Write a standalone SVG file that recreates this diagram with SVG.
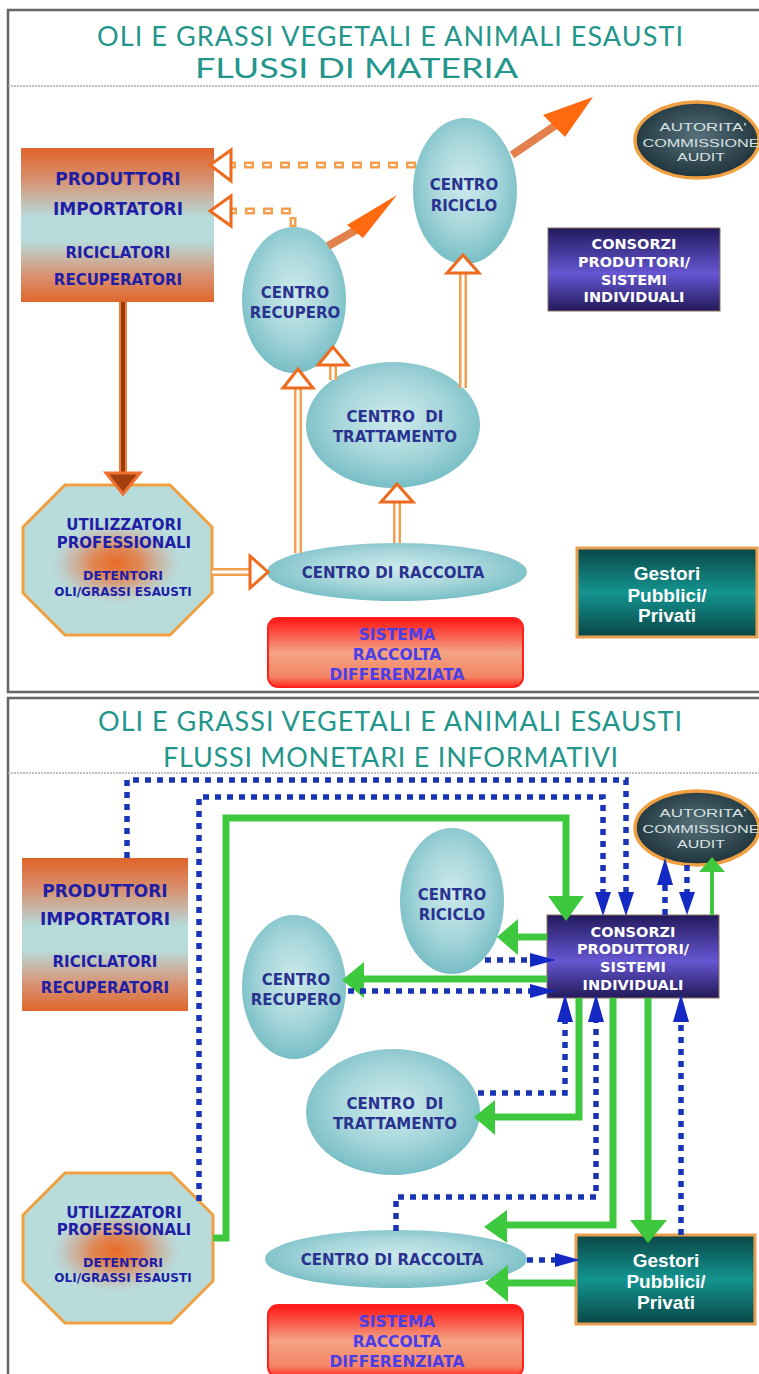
<svg xmlns="http://www.w3.org/2000/svg" width="759" height="1374" viewBox="0 0 759 1374">
<defs>
<style>
.frame{fill:#fff;stroke:#666;stroke-width:2.5}
.sep{stroke:#aaa;stroke-width:1.5;stroke-dasharray:2 1}
.title{font-family:Lato,"Liberation Sans",sans-serif;font-size:27px;fill:#23968c}
.lbl{font-family:"DejaVu Sans",Verdana,sans-serif;font-weight:bold;fill:#2a3290;text-anchor:middle}
.blu{fill:#1e1ea6}
.sis{fill:#4a3ee8}
.wht{fill:#fff}
.aud{font-family:"Liberation Sans",Arial,sans-serif;font-size:11.5px;fill:#d8e2e2;text-anchor:middle}
.ges{font-family:"Liberation Sans",Arial,sans-serif;font-weight:bold;font-size:19px;fill:#fff;text-anchor:middle}
.ell{fill:url(#cy)}
.oct{fill:#b8dcdc;stroke:#f0a040;stroke-width:3}
.od{fill:none;stroke:#f5a050;stroke-width:7;stroke-dasharray:10 8}
.odw{fill:none;stroke:#fff;stroke-width:2;stroke-dasharray:5 13;stroke-dashoffset:-2.5}
.hh{fill:#fff;stroke:#ee6a1c;stroke-width:3;stroke-linejoin:miter}
.dl{fill:none;stroke:#f2a050;stroke-width:8}
.dlw{fill:none;stroke:#fff;stroke-width:3}
.bd{fill:none;stroke:#1a35b4;stroke-width:5.5;stroke-dasharray:6 6}
.bh{fill:#1428c4}
.gl{fill:none;stroke:#3ec83e;stroke-width:7}
.gh{fill:#3ec83e}
</style>
<radialGradient id="cy" cx="50%" cy="45%" r="55%">
<stop offset="0" stop-color="#cdeaec"/>
<stop offset="0.55" stop-color="#a8d7db"/>
<stop offset="1" stop-color="#78bec6"/>
</radialGradient>
<linearGradient id="prod" x1="0" y1="0" x2="0" y2="1">
<stop offset="0" stop-color="#e0642a"/>
<stop offset="0.2" stop-color="#d8906e"/>
<stop offset="0.45" stop-color="#b6dcdc"/>
<stop offset="0.6" stop-color="#b6dcdc"/>
<stop offset="0.82" stop-color="#d89474"/>
<stop offset="1" stop-color="#e0662c"/>
</linearGradient>
<radialGradient id="blob" cx="50%" cy="50%" r="50%">
<stop offset="0" stop-color="#e86a24" stop-opacity="1"/>
<stop offset="0.35" stop-color="#e67a40" stop-opacity="0.85"/>
<stop offset="0.7" stop-color="#d89a80" stop-opacity="0.4"/>
<stop offset="1" stop-color="#b8dcdc" stop-opacity="0"/>
</radialGradient>
<linearGradient id="sis" x1="0" y1="0" x2="0" y2="1">
<stop offset="0" stop-color="#ff1414"/>
<stop offset="0.5" stop-color="#f4a484"/>
<stop offset="0.85" stop-color="#f48464"/>
<stop offset="1" stop-color="#ff2a20"/>
</linearGradient>
<linearGradient id="cons" x1="0" y1="0" x2="0" y2="1">
<stop offset="0" stop-color="#221a5c"/>
<stop offset="0.55" stop-color="#6656d2"/>
<stop offset="1" stop-color="#221a58"/>
</linearGradient>
<linearGradient id="ges" x1="0" y1="0" x2="0" y2="1">
<stop offset="0" stop-color="#0a4646"/>
<stop offset="0.5" stop-color="#139490"/>
<stop offset="1" stop-color="#0a4646"/>
</linearGradient>
<radialGradient id="aud" cx="50%" cy="45%" r="55%">
<stop offset="0" stop-color="#56707a"/>
<stop offset="1" stop-color="#1f343c"/>
</radialGradient>
</defs>

<!-- panels -->
<g id="panel-top">
<rect class="frame" x="8" y="10" width="760" height="682"/>
<line class="sep" x1="8" y1="86" x2="759" y2="86"/>
<text class="title" x="97" y="46" textLength="586" lengthAdjust="spacing">OLI E GRASSI VEGETALI E ANIMALI ESAUSTI</text>
<text class="title" x="195" y="78" textLength="323" lengthAdjust="spacingAndGlyphs">FLUSSI DI MATERIA</text>
</g>
<g id="panel-bottom">
<rect class="frame" x="8" y="698" width="760" height="690"/>
<line class="sep" x1="8" y1="773" x2="759" y2="773"/>
<text class="title" x="98" y="731" textLength="584" lengthAdjust="spacing">OLI E GRASSI VEGETALI E ANIMALI ESAUSTI</text>
<text class="title" x="163" y="767" textLength="455" lengthAdjust="spacing">FLUSSI MONETARI E INFORMATIVI</text>
</g>

<!-- ===== TOP PANEL NODES ===== -->
<g id="t-produttori">
<rect x="21" y="148" width="193" height="154" fill="url(#prod)"/>
<text class="lbl blu" x="118" y="185" font-size="17">PRODUTTORI</text>
<text class="lbl blu" x="118" y="215" font-size="17">IMPORTATORI</text>
<text class="lbl blu" x="118" y="258" font-size="15">RICICLATORI</text>
<text class="lbl blu" x="118" y="285" font-size="15">RECUPERATORI</text>
</g>
<g id="t-utilizzatori">
<polygon class="oct" points="65,485 170,485 212,527 212,593 170,635 65,635 23,593 23,527"/>
<ellipse cx="116" cy="563" rx="70" ry="44" fill="url(#blob)"/>
<text class="lbl blu" x="124" y="530" font-size="15">UTILIZZATORI</text>
<text class="lbl blu" x="124" y="548" font-size="15">PROFESSIONALI</text>
<text class="lbl blu" x="123" y="580" font-size="12.5">DETENTORI</text>
<text class="lbl blu" x="123" y="596" font-size="12">OLI/GRASSI ESAUSTI</text>
</g>
<g id="t-recupero">
<ellipse class="ell" cx="294" cy="300" rx="52" ry="73"/>
<text class="lbl" x="295" y="298" font-size="15">CENTRO</text>
<text class="lbl" x="295" y="318" font-size="15">RECUPERO</text>
</g>
<g id="t-riciclo">
<ellipse class="ell" cx="465" cy="191" rx="52" ry="73"/>
<text class="lbl" x="464" y="190" font-size="15">CENTRO</text>
<text class="lbl" x="464" y="211" font-size="15">RICICLO</text>
</g>
<g id="t-trattamento">
<ellipse class="ell" cx="393" cy="425" rx="87" ry="63"/>
<text class="lbl" x="395" y="422" font-size="15" xml:space="preserve">CENTRO  DI</text>
<text class="lbl" x="395" y="442" font-size="15">TRATTAMENTO</text>
</g>
<g id="t-raccolta">
<ellipse class="ell" cx="397" cy="572" rx="130" ry="29"/>
<text class="lbl" x="393" y="578" font-size="15">CENTRO DI RACCOLTA</text>
</g>
<g id="t-sistema">
<rect x="268" y="618" width="255" height="69" rx="10" fill="url(#sis)" stroke="#ff2020" stroke-width="2"/>
<text class="lbl sis" x="397" y="640" font-size="15.5">SISTEMA</text>
<text class="lbl sis" x="397" y="660" font-size="15.5">RACCOLTA</text>
<text class="lbl sis" x="397" y="680" font-size="15.5">DIFFERENZIATA</text>
</g>
<g id="t-autorita">
<ellipse cx="697" cy="140" rx="62" ry="38" fill="url(#aud)" stroke="#f0a040" stroke-width="3.5"/>
<text class="aud" x="703" y="131" textLength="87" lengthAdjust="spacingAndGlyphs">AUTORITA'</text>
<text class="aud" x="701" y="147" textLength="117" lengthAdjust="spacingAndGlyphs">COMMISSIONE</text>
<text class="aud" x="701" y="161" textLength="48" lengthAdjust="spacingAndGlyphs">AUDIT</text>
</g>
<g id="t-consorzi">
<rect x="548" y="228" width="172" height="83" fill="url(#cons)" stroke="#8a7060" stroke-width="1"/>
<text class="lbl wht" x="634" y="249" font-size="14.5">CONSORZI</text>
<text class="lbl wht" x="634" y="267" font-size="14.5">PRODUTTORI/</text>
<text class="lbl wht" x="634" y="285" font-size="14.5">SISTEMI</text>
<text class="lbl wht" x="634" y="302" font-size="14.5">INDIVIDUALI</text>
</g>
<g id="t-gestori">
<rect x="577" y="548" width="180" height="89" fill="url(#ges)" stroke="#e8a050" stroke-width="3"/>
<text class="ges" x="667" y="580">Gestori</text>
<text class="ges" x="667" y="602">Pubblici/</text>
<text class="ges" x="667" y="622">Privati</text>
</g>

<!-- ===== TOP PANEL CONNECTORS ===== -->
<g id="t-connectors">
<path class="od" d="M416,165 H231"/>
<path class="odw" d="M416,165 H231"/>
<polygon class="hh" points="210,165 231,150 231,181" stroke="#d8601c"/>
<path class="od" d="M293,227 V211 H231"/>
<path class="odw" d="M293,227 V211 H231"/>
<polygon class="hh" points="210,211 231,196 231,226" stroke="#d8601c"/>
<line x1="512" y1="155" x2="556" y2="125" stroke="#e2814c" stroke-width="8"/>
<polygon points="593,97 543,115 565,137" fill="#ff6a10"/>
<line x1="328" y1="246" x2="356" y2="230" stroke="#e2814c" stroke-width="8"/>
<polygon points="397,195 347,225 363,238" fill="#ff6a10"/>
<line x1="123" y1="302" x2="123" y2="474" stroke="#f08040" stroke-width="8"/>
<line x1="123" y1="302" x2="123" y2="474" stroke="#9a3a08" stroke-width="4"/>
<polygon points="106,473 140,473 123,494" fill="#a44010" stroke="#f07030" stroke-width="3"/>
<path class="dl" d="M298,553 V388"/><path class="dlw" d="M298,553 V388"/>
<polygon class="hh" points="298,369 283,388 313,388"/>
<path class="dl" d="M333,380 V365"/><path class="dlw" d="M333,380 V365"/>
<polygon class="hh" points="333,347 318,365 348,365"/>
<path class="dl" d="M397,543 V502"/><path class="dlw" d="M397,543 V502"/>
<polygon class="hh" points="397,484 381,502 413,502"/>
<path class="dl" d="M463,388 V273"/><path class="dlw" d="M463,388 V273"/>
<polygon class="hh" points="463,255 447,273 479,273"/>
<path class="dl" d="M212,572 H250"/><path class="dlw" d="M212,572 H250"/>
<polygon class="hh" points="268,572 250,556 250,588"/>
</g>

<!-- ===== BOTTOM PANEL NODES ===== -->
<g id="b-produttori">
<rect x="22" y="858" width="166" height="153" fill="url(#prod)"/>
<text class="lbl blu" x="105" y="897" font-size="17">PRODUTTORI</text>
<text class="lbl blu" x="105" y="925" font-size="17">IMPORTATORI</text>
<text class="lbl blu" x="105" y="967" font-size="15">RICICLATORI</text>
<text class="lbl blu" x="105" y="993" font-size="15">RECUPERATORI</text>
</g>
<g id="b-utilizzatori">
<polygon class="oct" points="65,1173 171,1173 213,1215 213,1281 171,1323 65,1323 23,1281 23,1215"/>
<ellipse cx="116" cy="1251" rx="70" ry="44" fill="url(#blob)"/>
<text class="lbl blu" x="124" y="1218" font-size="15">UTILIZZATORI</text>
<text class="lbl blu" x="124" y="1235" font-size="15">PROFESSIONALI</text>
<text class="lbl blu" x="123" y="1267" font-size="12.5">DETENTORI</text>
<text class="lbl blu" x="123" y="1282" font-size="12">OLI/GRASSI ESAUSTI</text>
</g>
<g id="b-riciclo">
<ellipse class="ell" cx="452" cy="901" rx="52" ry="73"/>
<text class="lbl" x="452" y="900" font-size="15">CENTRO</text>
<text class="lbl" x="452" y="920" font-size="15">RICICLO</text>
</g>
<g id="b-recupero">
<ellipse class="ell" cx="294" cy="987" rx="52" ry="72"/>
<text class="lbl" x="296" y="985" font-size="15">CENTRO</text>
<text class="lbl" x="296" y="1005" font-size="15">RECUPERO</text>
</g>
<g id="b-trattamento">
<ellipse class="ell" cx="393" cy="1112" rx="87" ry="63"/>
<text class="lbl" x="395" y="1109" font-size="15" xml:space="preserve">CENTRO  DI</text>
<text class="lbl" x="395" y="1129" font-size="15">TRATTAMENTO</text>
</g>
<g id="b-raccolta">
<ellipse class="ell" cx="396" cy="1259" rx="131" ry="29"/>
<text class="lbl" x="392" y="1265" font-size="15">CENTRO DI RACCOLTA</text>
</g>
<g id="b-sistema">
<rect x="268" y="1305" width="255" height="72" rx="10" fill="url(#sis)" stroke="#ff2020" stroke-width="2"/>
<text class="lbl sis" x="397" y="1327" font-size="15.5">SISTEMA</text>
<text class="lbl sis" x="397" y="1347" font-size="15.5">RACCOLTA</text>
<text class="lbl sis" x="397" y="1367" font-size="15.5">DIFFERENZIATA</text>
</g>
<g id="b-autorita">
<ellipse cx="697" cy="828" rx="62" ry="37" fill="url(#aud)" stroke="#f0a040" stroke-width="3.5"/>
<text class="aud" x="703" y="817" textLength="87" lengthAdjust="spacingAndGlyphs">AUTORITA'</text>
<text class="aud" x="701" y="833" textLength="117" lengthAdjust="spacingAndGlyphs">COMMISSIONE</text>
<text class="aud" x="701" y="848" textLength="48" lengthAdjust="spacingAndGlyphs">AUDIT</text>
</g>
<g id="b-consorzi">
<rect x="547" y="915" width="172" height="83" fill="url(#cons)" stroke="#8a7060" stroke-width="1"/>
<text class="lbl wht" x="633" y="937" font-size="14.5">CONSORZI</text>
<text class="lbl wht" x="633" y="954" font-size="14.5">PRODUTTORI/</text>
<text class="lbl wht" x="633" y="972" font-size="14.5">SISTEMI</text>
<text class="lbl wht" x="633" y="990" font-size="14.5">INDIVIDUALI</text>
</g>
<g id="b-gestori">
<rect x="576" y="1235" width="179" height="89" fill="url(#ges)" stroke="#e8a050" stroke-width="3"/>
<text class="ges" x="666" y="1267">Gestori</text>
<text class="ges" x="666" y="1288">Pubblici/</text>
<text class="ges" x="666" y="1309">Privati</text>
</g>

<!-- ===== BOTTOM PANEL CONNECTORS ===== -->
<g id="b-connectors">
<path class="bd" d="M127,858 V780 H626 V893"/>
<polygon class="bh" points="626,916 618,892 634,892"/>
<path class="bd" d="M199,1201 V797 H603 V893"/>
<polygon class="bh" points="603,916 595,892 611,892"/>
<path class="gl" d="M213,1238 H226 V818 H566 V896"/>
<polygon class="gh" points="566,921 548,896 584,896"/>
<path class="gl" d="M547,937 H517"/>
<polygon class="gh" points="497,937 518,919 518,955"/>
<path class="bd" d="M485,960 H530"/>
<polygon class="bh" points="556,960 530,953 530,967"/>
<path class="gl" d="M547,979 H362"/>
<polygon class="gh" points="342,980 364,962 364,998"/>
<path class="bd" d="M348,991 H530"/>
<polygon class="bh" points="556,991 530,984 530,998"/>
<path class="bd" d="M478,1093 H565 V1022"/>
<polygon class="bh" points="565,994 557,1022 573,1022"/>
<path class="gl" d="M579,998 V1117 H494"/>
<polygon class="gh" points="474,1117 495,1100 495,1135"/>
<path class="bd" d="M396,1231 V1197 H596 V1022"/>
<polygon class="bh" points="596,994 588,1022 604,1022"/>
<path class="gl" d="M613,998 V1225 H505"/>
<polygon class="gh" points="484,1227 507,1210 507,1243"/>
<path class="gl" d="M648,998 V1221"/>
<polygon class="gh" points="648,1243 630,1220 667,1220"/>
<path class="bd" d="M681,1235 V1022"/>
<polygon class="bh" points="681,994 673,1022 689,1022"/>
<path class="bd" d="M527,1260 H556"/>
<polygon class="bh" points="580,1260 555,1253 555,1267"/>
<path class="gl" d="M576,1283 H507"/>
<polygon class="gh" points="485,1283 508,1265 508,1302"/>
<path class="bd" d="M665,915 V885"/>
<polygon class="bh" points="665,858 657,885 673,885"/>
<path class="bd" d="M687,865 V892"/>
<polygon class="bh" points="687,915 679,892 695,892"/>
<path fill="none" stroke="#3ec83e" stroke-width="4" d="M712,915 V871"/>
<polygon class="gh" points="712,857 699,872 725,872"/>
</g>
</svg>
